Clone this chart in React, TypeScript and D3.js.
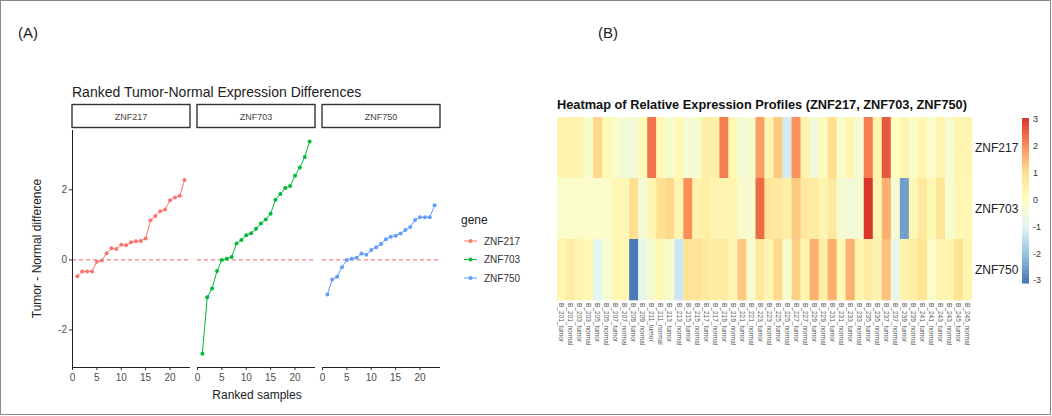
import React, { useEffect, useRef } from 'react';
import * as d3 from 'd3';

// panel A data: ranked tumor - normal differences per gene
const genes = ['ZNF217', 'ZNF703', 'ZNF750'];
const geneColors = ['#F8766D', '#00BA38', '#619CFF'];
const rankedSamples = [1, 2, 3, 4, 5, 6, 7, 8, 9, 10, 11, 12, 13, 14, 15, 16, 17, 18, 19, 20, 21, 22, 23];
const diffZNF217 = [-0.47, -0.33, -0.33, -0.33, -0.05, -0.02, 0.19, 0.33, 0.31, 0.43, 0.42, 0.5, 0.53, 0.54, 0.61, 1.13, 1.25, 1.39, 1.44, 1.7, 1.78, 1.83, 2.28];
const diffZNF703 = [-2.68, -1.07, -0.82, -0.32, 0.0, 0.03, 0.08, 0.47, 0.57, 0.7, 0.76, 0.89, 1.04, 1.15, 1.32, 1.72, 1.88, 2.05, 2.11, 2.4, 2.64, 2.94, 3.38];
const diffZNF750 = [-0.99, -0.56, -0.48, -0.21, 0.0, 0.03, 0.06, 0.18, 0.15, 0.28, 0.36, 0.45, 0.59, 0.66, 0.69, 0.75, 0.85, 0.94, 1.14, 1.22, 1.22, 1.22, 1.56];
const xTicks = [0, 5, 10, 15, 20];
const yTicks = [-2, 0, 2];

// panel B data: relative expression per sample column
const sampleLabels = [
  'B_201_tumor', 'B_201_normal', 'B_203_tumor', 'B_203_normal', 'B_205_tumor', 'B_205_normal',
  'B_207_tumor', 'B_207_normal', 'B_209_tumor', 'B_209_normal', 'B_211_tumor', 'B_211_normal',
  'B_213_tumor', 'B_213_normal', 'B_215_tumor', 'B_215_normal', 'B_217_tumor', 'B_217_normal',
  'B_219_tumor', 'B_219_normal', 'B_221_tumor', 'B_221_normal', 'B_223_tumor', 'B_223_normal',
  'B_225_tumor', 'B_225_normal', 'B_227_tumor', 'B_227_normal', 'B_229_tumor', 'B_229_normal',
  'B_231_tumor', 'B_231_normal', 'B_233_tumor', 'B_233_normal', 'B_235_tumor', 'B_235_normal',
  'B_237_tumor', 'B_237_normal', 'B_239_tumor', 'B_239_normal', 'B_241_tumor', 'B_241_normal',
  'B_243_tumor', 'B_243_normal', 'B_245_tumor', 'B_245_normal',
];
const exprZNF217 = [0.3, 0.4, 0.3, -0.3, 1.1, 0.2, -0.2, -0.5, -0.5, 0.1, 2.3, 0.2, -0.3, 0.2, -0.4, -0.3, 0.5, 0.5, 2.2, 0.2, -0.4, -0.3, 1.8, 0.3, 1.3, -1.2, 2.0, 0.4, -0.5, 0.1, 1.0, -0.2, 0.3, -0.4, 2.2, 0.3, 2.6, 0.0, 0.3, -0.2, 0.3, -0.2, 0.3, -0.3, 0.3, 0.3];
const exprZNF703 = [-0.2, -0.2, -0.2, -0.2, -0.2, -0.2, 0.2, 0.2, 1.0, -0.4, 0.3, 1.0, 1.1, 0.3, 2.0, 0.4, 0.5, 0.3, 0.3, 0.3, -0.3, -0.3, 2.4, 0.8, 0.7, 0.5, 1.3, 0.7, 0.6, 0.3, 0.7, -0.4, -0.5, -0.4, 3.0, 0.3, 1.6, -0.4, -2.5, 0.2, 0.7, 0.2, 0.8, -0.3, 0.2, 0.2];
const exprZNF750 = [0.3, 0.6, 0.3, 0.2, -0.9, -0.4, 0.2, 0.2, -3.0, -0.8, -0.3, 0.2, -0.3, -1.3, 0.9, 0.9, 0.7, 0.6, 0.6, 0.3, 1.3, -0.3, 0.7, 0.3, 1.1, -0.3, 1.2, 0.3, 1.6, 0.5, 1.6, 0.2, 1.6, 0.3, 0.6, 0.4, 1.4, -0.8, 0.4, 0.6, 0.9, -0.2, 0.3, 0.3, 0.9, 0.3];
const legendTicks = [3, 2, 1, 0, -1, -2, -3];
const palette = ['#4575B4', '#91BFDB', '#E0F3F8', '#FFFFBF', '#FEE090', '#FC8D59', '#D73027'];

const W = 1052;
const H = 416;
const FONT = '"Liberation Sans", Arial, sans-serif';

const App: React.FC = () => {
  const svgRef = useRef<SVGSVGElement>(null);

  useEffect(() => {
    document.body.style.margin = '0';
    if (!svgRef.current) return;
    const svg = d3.select(svgRef.current);
    svg.selectAll('*').remove();
    svg.attr('width', W).attr('height', H).style('font-family', FONT);

    svg.append('rect').attr('width', W).attr('height', H).attr('fill', 'white');
    svg.append('rect')
      .attr('x', 0.5).attr('y', 0.5)
      .attr('width', W - 2).attr('height', H - 2)
      .attr('fill', 'none').attr('stroke', '#8a8a8a');

    svg.append('text').attr('x', 18).attr('y', 38).attr('font-size', 15).attr('fill', '#222').text('(A)');
    svg.append('text').attr('x', 598).attr('y', 38).attr('font-size', 15).attr('fill', '#222').text('(B)');

    // ---------- Panel A ----------
    const diffs = [diffZNF217, diffZNF703, diffZNF750];
    const top = 130;
    const bottom = 367;
    const facetW = 118;
    const facetX0 = [72, 197, 322];
    const y = d3.scaleLinear().domain([-3.06, 3.71]).range([bottom, top]);

    svg.append('text')
      .attr('x', 72).attr('y', 97)
      .attr('font-size', 14).attr('fill', '#222')
      .text('Ranked Tumor-Normal Expression Differences');

    genes.forEach((g, gi) => {
      const x0 = facetX0[gi];
      const x = d3.scaleLinear().domain([-0.1, 24.1]).range([x0, x0 + facetW]);
      const gF = svg.append('g');

      // strip
      gF.append('rect')
        .attr('x', x0).attr('y', 104.5)
        .attr('width', facetW).attr('height', 23)
        .attr('fill', 'white').attr('stroke', '#333').attr('stroke-width', 1.4);
      gF.append('text')
        .attr('x', x0 + facetW / 2).attr('y', 119.5)
        .attr('text-anchor', 'middle').attr('font-size', 9).attr('fill', '#444')
        .text(g);

      // zero reference
      gF.append('line')
        .attr('x1', x0).attr('x2', x0 + facetW)
        .attr('y1', y(0)).attr('y2', y(0))
        .attr('stroke', '#E8474B').attr('stroke-opacity', 0.85)
        .attr('stroke-dasharray', '4,3').attr('stroke-width', 1);

      const pts = rankedSamples.map((r, i) => [r, diffs[gi][i]] as [number, number]);
      const line = d3.line<[number, number]>().x(d => x(d[0])).y(d => y(d[1]));
      gF.append('path')
        .attr('d', line(pts))
        .attr('fill', 'none').attr('stroke', geneColors[gi]).attr('stroke-width', 1);
      gF.selectAll('circle')
        .data(pts)
        .enter()
        .append('circle')
        .attr('cx', d => x(d[0])).attr('cy', d => y(d[1]))
        .attr('r', 2).attr('fill', geneColors[gi]);

      // x axis
      gF.append('line')
        .attr('x1', x0).attr('x2', x0 + facetW)
        .attr('y1', bottom + 0.5).attr('y2', bottom + 0.5)
        .attr('stroke', '#222').attr('stroke-width', 1);
      xTicks.forEach(t => {
        gF.append('line')
          .attr('x1', x(t)).attr('x2', x(t))
          .attr('y1', bottom).attr('y2', bottom + 3)
          .attr('stroke', '#333');
        gF.append('text')
          .attr('x', x(t)).attr('y', bottom + 14)
          .attr('text-anchor', 'middle').attr('font-size', 10).attr('fill', '#4d4d4d')
          .text(t);
      });

      if (gi === 0) {
        gF.append('line')
          .attr('x1', x0 + 0.5).attr('x2', x0 + 0.5)
          .attr('y1', top).attr('y2', bottom + 0.5)
          .attr('stroke', '#222');
        yTicks.forEach(t => {
          gF.append('line')
            .attr('x1', x0 - 3).attr('x2', x0)
            .attr('y1', y(t)).attr('y2', y(t))
            .attr('stroke', '#333');
          gF.append('text')
            .attr('x', x0 - 5).attr('y', y(t)).attr('dy', '0.35em')
            .attr('text-anchor', 'end').attr('font-size', 10).attr('fill', '#4d4d4d')
            .text(t);
        });
      }
    });

    svg.append('text')
      .attr('x', 257).attr('y', 399)
      .attr('text-anchor', 'middle').attr('font-size', 12).attr('fill', '#222')
      .text('Ranked samples');
    svg.append('text')
      .attr('transform', `translate(41, ${(top + bottom) / 2}) rotate(-90)`)
      .attr('text-anchor', 'middle').attr('font-size', 12).attr('fill', '#222')
      .text('Tumor - Normal difference');

    // legend
    const lg = svg.append('g');
    lg.append('text').attr('x', 461).attr('y', 224).attr('font-size', 12).attr('fill', '#222').text('gene');
    genes.forEach((g, gi) => {
      const ly = 241 + gi * 18.5;
      lg.append('line')
        .attr('x1', 464).attr('x2', 477).attr('y1', ly).attr('y2', ly)
        .attr('stroke', geneColors[gi]);
      lg.append('circle').attr('cx', 470.5).attr('cy', ly).attr('r', 2).attr('fill', geneColors[gi]);
      lg.append('text')
        .attr('x', 484).attr('y', ly).attr('dy', '0.35em')
        .attr('font-size', 10).attr('fill', '#333')
        .text(g);
    });

    // ---------- Panel B ----------
    const expr = [exprZNF217, exprZNF703, exprZNF750];
    const hx = d3.scaleBand<string>().domain(sampleLabels).range([557, 972]);
    const hy = d3.scaleBand<string>().domain(genes).range([117, 300]);
    const color = d3.scaleLinear<string>()
      .domain(d3.range(palette.length).map(i => -3.1 + (i * 6.15) / (palette.length - 1)))
      .range(palette)
      .clamp(true);

    svg.append('text')
      .attr('x', 557).attr('y', 109)
      .attr('font-size', 12.5).attr('font-weight', 'bold').attr('fill', '#111')
      .attr('textLength', 410).attr('lengthAdjust', 'spacingAndGlyphs')
      .text('Heatmap of Relative Expression Profiles (ZNF217, ZNF703, ZNF750)');

    const cells = genes.flatMap((g, gi) =>
      sampleLabels.map((s, si) => ({ gene: g, sample: s, value: expr[gi][si] })));
    svg.append('g')
      .selectAll('rect')
      .data(cells)
      .enter()
      .append('rect')
      .attr('x', d => hx(d.sample)!)
      .attr('y', d => hy(d.gene)!)
      .attr('width', hx.bandwidth() + 0.3)
      .attr('height', hy.bandwidth() + 0.3)
      .attr('fill', d => color(d.value));

    genes.forEach(g => {
      svg.append('text')
        .attr('x', 975).attr('y', hy(g)! + hy.bandwidth() / 2).attr('dy', '0.35em')
        .attr('font-size', 12).attr('fill', '#222')
        .text(g);
    });

    sampleLabels.forEach(s => {
      svg.append('text')
        .attr('transform', `translate(${hx(s)! + hx.bandwidth() / 2}, 303) rotate(90)`)
        .attr('dy', '0.35em')
        .attr('font-size', 6.5).attr('fill', '#555')
        .text(s);
    });

    // colour key
    const ly = d3.scaleLinear().domain([-3.1, 3.05]).range([283, 118]);
    const steps = d3.range(-3.1, 3.05, 0.05);
    svg.append('g')
      .selectAll('rect')
      .data(steps)
      .enter()
      .append('rect')
      .attr('x', 1022).attr('width', 7)
      .attr('y', d => ly(d + 0.05))
      .attr('height', Math.abs(ly(0) - ly(0.05)) + 0.5)
      .attr('fill', d => color(d));
    legendTicks.forEach(t => {
      svg.append('text')
        .attr('x', 1033).attr('y', ly(t)).attr('dy', '0.35em')
        .attr('font-size', 9).attr('fill', '#333')
        .text(t);
    });
  }, []);

  return <svg ref={svgRef} style={{ display: 'block' }} />;
};

export default App;
